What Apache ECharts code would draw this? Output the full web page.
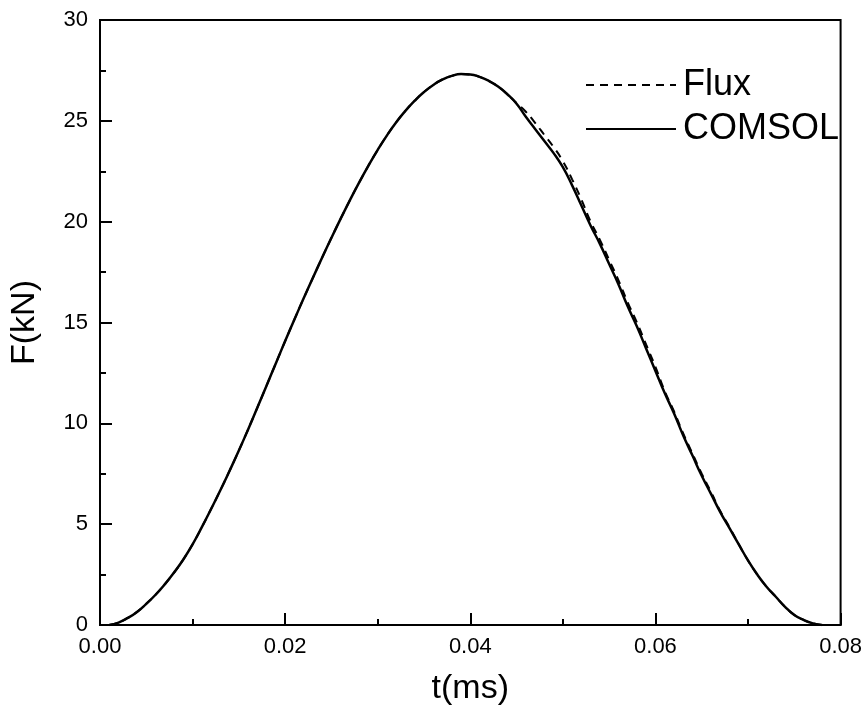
<!DOCTYPE html>
<html>
<head>
<meta charset="utf-8">
<script src="https://cdn.jsdelivr.net/npm/echarts@6/dist/echarts.min.js"></script>
<style>
  html, body { margin: 0; padding: 0; background: #fff; }
  #chart { width: 865px; height: 711px; }
</style>
</head>
<body>
<div id="chart"></div>
<script>
// time samples (ms), one every 0.001
var times = [];
for (var i = 1; i <= 78; i++) { times.push(+(i * 0.001).toFixed(3)); }

// COMSOL force (kN)
var comsol = [
    0, 0.12, 0.35, 0.65, 1.05, 1.5, 2.02, 2.6, 3.25, 4.0,
    4.85, 5.75, 6.68, 7.65, 8.65, 9.7, 10.78, 11.88, 12.98, 14.08,
    15.15, 16.2, 17.22, 18.22, 19.2, 20.15, 21.07, 21.95, 22.78, 23.56,
    24.28, 24.93, 25.5, 26.0, 26.43, 26.78, 27.05, 27.23, 27.32, 27.3,
    27.18, 26.98, 26.7, 26.32, 25.85, 25.2, 24.6, 24.0, 23.4, 22.7,
    21.8, 20.8, 19.8, 18.9, 17.9, 16.9, 15.8, 14.8, 13.7, 12.6,
    11.5, 10.5, 9.4, 8.4, 7.4, 6.5, 5.6, 4.8, 4.0, 3.2,
    2.5, 1.9, 1.4, 0.9, 0.5, 0.25, 0.08, 0
];

// Flux force (kN): same curve, slightly above on the falling side
var flux = [
    0, 0.12, 0.35, 0.65, 1.05, 1.5, 2.02, 2.6, 3.25, 4.0,
    4.85, 5.75, 6.68, 7.65, 8.65, 9.7, 10.78, 11.88, 12.98, 14.08,
    15.15, 16.2, 17.22, 18.22, 19.2, 20.15, 21.07, 21.95, 22.78, 23.56,
    24.28, 24.93, 25.5, 26.0, 26.43, 26.78, 27.05, 27.23, 27.32, 27.3,
    27.18, 26.98, 26.7, 26.32, 25.88, 25.45, 24.9, 24.3, 23.7, 23.0,
    22.1, 21.1, 20.0, 19.1, 18.1, 17.1, 16.0, 15.0, 13.9, 12.8,
    11.6, 10.6, 9.5, 8.5, 7.5, 6.6, 5.65, 4.85, 4.0, 3.2,
    2.5, 1.9, 1.4, 0.9, 0.5, 0.25, 0.08, 0
];

var seriesNames = ['Flux', 'COMSOL'];

function pairs(ys) {
    return ys.map(function (y, i) { return [times[i], y]; });
}

var myChart = echarts.init(document.getElementById('chart'));

var font = 'Liberation Sans, Arial, sans-serif';

var option = {
    backgroundColor: '#fff',
    animation: false,
    grid: {
        left: 94.5, right: 22.5, top: 20, bottom: 84,
        show: true, borderColor: '#000', borderWidth: 2
    },
    legend: {
        orient: 'vertical',
        left: 580, top: 62,
        itemWidth: 90, itemHeight: 14, itemGap: 8,
        data: seriesNames,
        itemStyle: { opacity: 0 },
        textStyle: { fontFamily: font, fontSize: 36, color: '#000', padding: [0, 0, 0, 2] }
    },
    xAxis: {
        type: 'value', min: 0, max: 0.08, interval: 0.02,
        name: 't(ms)', nameLocation: 'middle', nameGap: 47,
        nameTextStyle: { fontFamily: font, fontSize: 34, color: '#000' },
        axisLine: { lineStyle: { color: '#000', width: 2 } },
        axisTick: { inside: true, length: 12, lineStyle: { color: '#000', width: 2 } },
        minorTick: { show: true, splitNumber: 2, length: 6, lineStyle: { color: '#000', width: 2 } },
        axisLabel: {
            fontFamily: font, fontSize: 22, color: '#000', margin: 11,
            formatter: function (v) { return v.toFixed(2); }
        },
        splitLine: { show: false }
    },
    yAxis: {
        type: 'value', min: 0, max: 30, interval: 5,
        name: 'F(kN)', nameLocation: 'middle', nameGap: 58,
        nameTextStyle: { fontFamily: font, fontSize: 34, color: '#000' },
        axisLine: { lineStyle: { color: '#000', width: 2 } },
        axisTick: { inside: true, length: 12, lineStyle: { color: '#000', width: 2 } },
        minorTick: { show: true, splitNumber: 2, length: 6, lineStyle: { color: '#000', width: 2 } },
        axisLabel: { fontFamily: font, fontSize: 22, color: '#000', margin: 12 },
        splitLine: { show: false }
    },
    series: [
        {
            name: seriesNames[0], type: 'line', symbol: 'none', smooth: true,
            data: pairs(flux),
            lineStyle: { color: '#000', width: 2, type: [8, 6] },
            itemStyle: { color: '#000' }
        },
        {
            name: seriesNames[1], type: 'line', symbol: 'none', smooth: true,
            data: pairs(comsol),
            lineStyle: { color: '#000', width: 2.5 },
            itemStyle: { color: '#000' }
        }
    ]
};

myChart.setOption(option);
</script>
</body>
</html>
